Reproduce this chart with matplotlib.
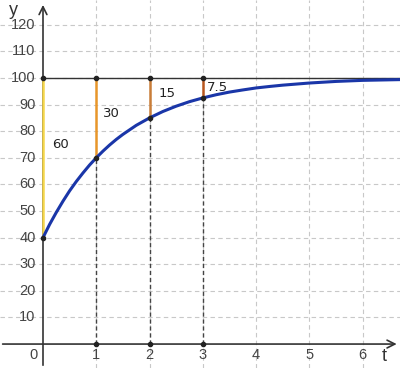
import numpy as np
import matplotlib.pyplot as plt

# curve
t_curva = [0, 0.125, 0.25, 0.375, 0.5, 0.625, 0.75, 0.875, 1, 1.125, 1.25, 1.375,
           1.5, 1.75, 2, 2.25, 2.5, 2.75, 3, 3.25, 3.5, 3.75, 4, 4.25, 4.5, 5,
           5.5, 6, 6.5, 6.75]
y_curva = [40, 45.0, 49.5, 53.7, 57.6, 61.1, 64.3, 67.3, 70, 72.5, 74.8, 76.9,
           78.8, 82.2, 85, 87.4, 89.4, 91.1, 92.5, 93.7, 94.7, 95.5, 96.25, 96.8, 97.3, 98.1,
           98.7, 99.1, 99.3, 99.4]

# marked points and the gaps to 100
t_pontos = [0, 1, 2, 3]
y_pontos = [40, 70, 85, 92.5]
gaps = ['60', '30', '15', '7.5']
cores_gap = ['#f5d64a', '#e8962a', '#c97d38', '#b8561e']
limite = 100

x_ticks = [0, 1, 2, 3, 4, 5, 6]
y_ticks = [10, 20, 30, 40, 50, 60, 70, 80, 90, 100, 110, 120]

fig = plt.figure(figsize=(4, 3.68), dpi=100)
ax = fig.add_axes([0, 0, 1, 1])
ax.set_xlim(-0.807, 6.70)
ax.set_ylim(-9.0, 129.3)
ax.axis('off')

# grid
for x in x_ticks[1:]:
    ax.axvline(x, color='#c8c8c8', lw=0.8, ls=(0, (4, 3)), zorder=0)
for y in y_ticks:
    ax.axhline(y, color='#c8c8c8', lw=0.8, ls=(0, (4, 3)), zorder=0)

# axes with arrows
ax.annotate('', xy=(6.69, 0), xytext=(-0.81, 0),
            arrowprops=dict(arrowstyle='->', color='#333333', lw=1.2, mutation_scale=14))
ax.annotate('', xy=(0, 128.5), xytext=(0, -9.0),
            arrowprops=dict(arrowstyle='->', color='#333333', lw=1.2, mutation_scale=14))

# tick labels
for x in x_ticks:
    ax.text(x if x else -0.18, -4.3, str(x), ha='center', va='center',
            fontsize=10.5, color='#444444', family='Liberation Sans')
for y in y_ticks:
    ax.text(-0.14, y, str(y), ha='right', va='center',
            fontsize=10.5, color='#444444', family='Liberation Sans')
ax.text(-0.56, 125.5, 'y', ha='center', va='center', fontsize=13, color='#333333',
        family='Liberation Sans')
ax.text(6.4, -4.5, 't', ha='center', va='center', fontsize=13, color='#333333',
        family='Liberation Sans')

# horizontal line at 100
ax.plot([0, 6.7], [limite, limite], color='#333333', lw=1.0, zorder=2)

# dashed drop lines
for t, y in zip(t_pontos[1:], y_pontos[1:]):
    ax.plot([t, t], [0, y], color='#444444', lw=1.0, ls=(0, (3, 2)), zorder=2)

# coloured gaps
for t, y, c in zip(t_pontos, y_pontos, cores_gap):
    ax.plot([t, t], [y, limite], color=c, lw=1.8, zorder=3)

# curve
ax.plot(t_curva, y_curva, color='#1a36a8', lw=2.2, zorder=4)

# dots
ax.scatter(t_pontos, y_pontos, s=9, color='#222222', zorder=5)
ax.scatter(t_pontos, [limite] * 4, s=9, color='#222222', zorder=5)
ax.scatter(t_pontos[1:], [0] * 3, s=9, color='#222222', zorder=5)

# gap labels
pos_lab = [(0.32, 75), (1.28, 86.5), (2.32, 94), (3.28, 96.6)]
for (x, y), s in zip(pos_lab, gaps):
    ax.text(x, y, s, ha='center', va='center', fontsize=9.5, color='#222222')

fig.savefig('out.png', dpi=100)
